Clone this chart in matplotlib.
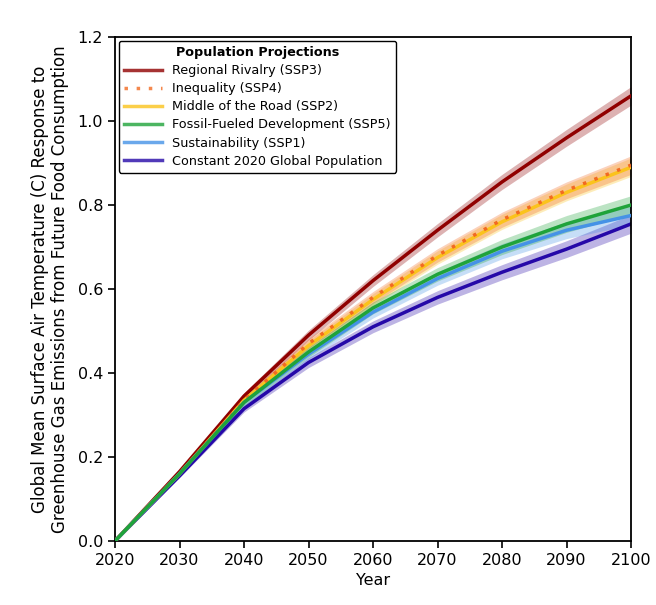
import numpy as np
import matplotlib.pyplot as plt

years = [2020, 2030, 2040, 2050, 2060, 2070, 2080, 2090, 2100]

ssp3 = [0.0, 0.165, 0.345, 0.49, 0.62, 0.74, 0.855, 0.96, 1.06]
ssp4 = [0.0, 0.16, 0.335, 0.47, 0.58, 0.68, 0.765, 0.835, 0.895]
ssp2 = [0.0, 0.16, 0.335, 0.465, 0.575, 0.675, 0.76, 0.83, 0.89]
ssp5 = [0.0, 0.16, 0.33, 0.45, 0.555, 0.635, 0.70, 0.755, 0.80]
ssp1 = [0.0, 0.16, 0.33, 0.445, 0.545, 0.625, 0.69, 0.74, 0.775]
const = [0.0, 0.155, 0.315, 0.425, 0.51, 0.58, 0.64, 0.695, 0.755]

# half-width of the shaded spread around each mean line
spread = [0.0, 0.004, 0.008, 0.012, 0.014, 0.016, 0.018, 0.02, 0.022]

series = {
    "ssp3": ("Regional Rivalry (SSP3)", ssp3, "#900000", "-"),
    "ssp4": ("Inequality (SSP4)", ssp4, "#f26a21", ":"),
    "ssp2": ("Middle of the Road (SSP2)", ssp2, "#fbc31c", "-"),
    "ssp5": ("Fossil-Fueled Development (SSP5)", ssp5, "#1fa33a", "-"),
    "ssp1": ("Sustainability (SSP1)", ssp1, "#4592e6", "-"),
    "const": ("Constant 2020 Global Population", const, "#2508a8", "-"),
}
legend_order = ["ssp3", "ssp4", "ssp2", "ssp5", "ssp1", "const"]
draw_order = ["const", "ssp3", "ssp2", "ssp4", "ssp1", "ssp5"]

fig = plt.figure(figsize=(6.56, 6.05), dpi=100)
ax = fig.add_axes([0.1753, 0.1058, 0.7867, 0.833])

x = np.array(years)
sp = np.array(spread)
lines = {}
for z, key in enumerate(draw_order):
    label, vals, color, ls = series[key]
    v = np.array(vals)
    ax.fill_between(x, v - sp, v + sp, color=color, alpha=0.3, lw=0, zorder=1)
    if ls == ":":
        ln, = ax.plot(x, vals, color=color, lw=2.5, ls=(0, (1, 2.5)),
                      label=label, zorder=2 + z)
    else:
        ln, = ax.plot(x, vals, color=color, lw=2.5, label=label, zorder=2 + z)
    lines[key] = ln

leg = ax.legend([lines[k] for k in legend_order],
                [series[k][0] for k in legend_order],
                loc="upper left", title="Population Projections", fontsize=9.2,
                title_fontproperties={"weight": "bold", "size": 9.2},
                handlelength=3, framealpha=1, edgecolor="black",
                borderaxespad=0.3, labelspacing=0.4)
for h in leg.get_lines():
    h.set_alpha(0.8)

ax.set_xlim(2020, 2100)
ax.set_ylim(0, 1.2)
ax.set_xticks(range(2020, 2101, 10))
ax.set_yticks(np.arange(0, 1.21, 0.2))
ax.tick_params(labelsize=11.5, width=1.2, length=5)
for s in ax.spines.values():
    s.set_linewidth(1.3)
ax.set_xlabel("Year", fontsize=11.5)
ax.set_ylabel("Global Mean Surface Air Temperature (C) Response to\n"
              "Greenhouse Gas Emissions from Future Food Consumption",
              fontsize=12, labelpad=6)

plt.savefig("out.png", dpi=100)
